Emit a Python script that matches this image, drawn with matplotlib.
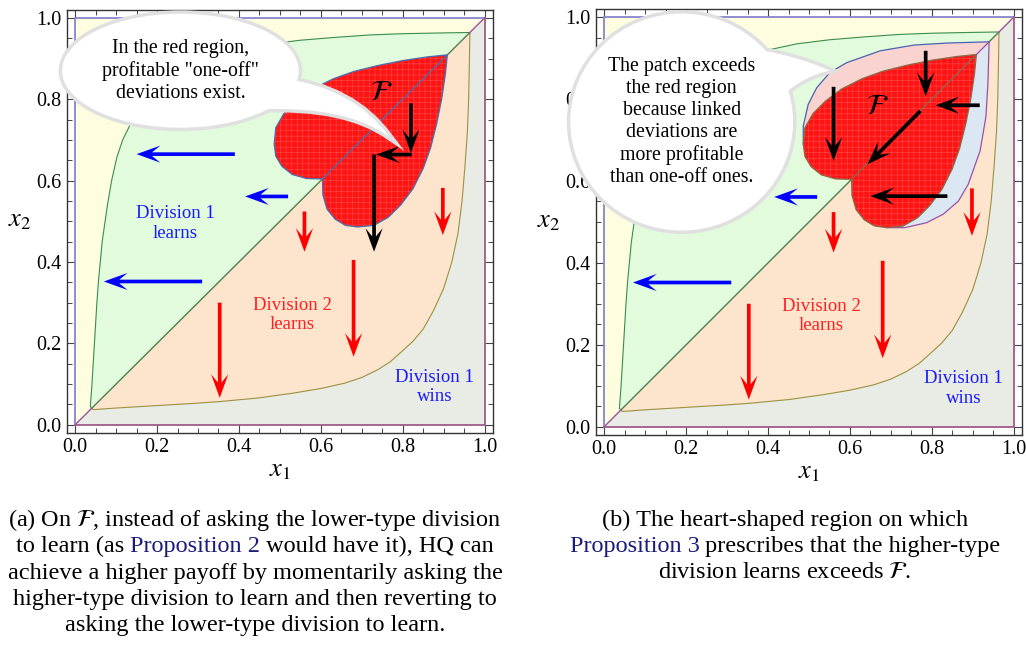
import numpy as np
import matplotlib
matplotlib.use("Agg")
import matplotlib.pyplot as plt
from matplotlib.patches import Polygon, Ellipse, PathPatch
from matplotlib.path import Path
from matplotlib.ticker import MultipleLocator, FormatStrFormatter

plt.rcParams["font.family"] = ["Liberation Serif", "DejaVu Serif"]
plt.rcParams["mathtext.fontset"] = "stix"
plt.rcParams["hatch.linewidth"] = 0.3

# lower boundary curve (Division 2 learns / Division 1 wins); the upper one is its mirror image
LOWER_X = [0.04, 0.045, 0.1, 0.2, 0.3, 0.355, 0.45, 0.535, 0.6, 0.658, 0.7, 0.739, 0.77,
           0.8, 0.825, 0.85, 0.875, 0.9, 0.92, 0.935, 0.945, 0.952, 0.958, 0.961, 0.963, 0.964]
LOWER_Y = [0.04, 0.037, 0.041, 0.047, 0.053, 0.057, 0.066, 0.078, 0.089, 0.102, 0.116, 0.135, 0.155,
           0.182, 0.205, 0.235, 0.28, 0.335, 0.40, 0.47, 0.55, 0.635, 0.72, 0.80, 0.90, 0.962]

# upper lobe of the heart F, from the notch round to the tip
HEART_X = [0.604, 0.565, 0.53, 0.505, 0.49, 0.486, 0.49, 0.51, 0.54, 0.58, 0.63, 0.68, 0.74, 0.80, 0.86, 0.909]
HEART_Y = [0.604, 0.605, 0.615, 0.635, 0.66, 0.69, 0.73, 0.765, 0.795, 0.825, 0.85, 0.868, 0.883, 0.895, 0.904, 0.909]

# outer edge of the larger patch (panel b), upper half
PATCH_X = [0.486, 0.486, 0.498, 0.519, 0.551, 0.592, 0.674, 0.756, 0.837, 0.94]
PATCH_Y = [0.69, 0.734, 0.787, 0.828, 0.865, 0.889, 0.918, 0.932, 0.937, 0.94]

# arrows: (x start, y start, x end, y end)
BLUE_ARROWS = [(0.39, 0.665, 0.15, 0.665), (0.52, 0.561, 0.415, 0.561), (0.31, 0.352, 0.07, 0.352)]
RED_ARROWS = [(0.56, 0.524, 0.56, 0.425), (0.353, 0.30, 0.353, 0.066),
              (0.68, 0.405, 0.68, 0.167), (0.898, 0.582, 0.898, 0.466)]
BLACK_ARROWS_A = [(0.82, 0.79, 0.82, 0.668), (0.822, 0.664, 0.735, 0.664), (0.73, 0.664, 0.73, 0.425)]
BLACK_ARROWS_B = [(0.56, 0.83, 0.56, 0.649), (0.785, 0.918, 0.785, 0.807), (0.917, 0.785, 0.809, 0.785),
                  (0.772, 0.771, 0.643, 0.641), (0.838, 0.563, 0.65, 0.563)]

BUBBLE_A = "In the red region,\nprofitable \"one-off\"\ndeviations exist."
BUBBLE_B = "The patch exceeds\nthe red region\nbecause linked\ndeviations are\nmore profitable\nthan one-off ones."

CAPTION_A = [
    [("(a) On $\\mathcal{F}$, instead of asking the lower-type division", "k")],
    [("to learn (as ", "k"), ("Proposition 2", "#1b1b7a"), (" would have it), HQ can", "k")],
    [("achieve a higher payoff by momentarily asking the", "k")],
    [("higher-type division to learn and then reverting to", "k")],
    [("asking the lower-type division to learn.", "k")],
]
CAPTION_B = [
    [("(b) The heart-shaped region on which", "k")],
    [("Proposition 3", "#1b1b7a"), (" prescribes that the higher-type", "k")],
    [("division learns exceeds $\\mathcal{F}$.", "k")],
]

YELLOW = "#fefde0"
GREEN = "#e1fbdc"
ORANGE = "#fce4cd"
GRAY = "#e9ebe5"
RED = "#ff1414"


def arrow(ax, a, color):
    x0, y0, x1, y1 = a
    ax.arrow(x0, y0, x1 - x0, y1 - y0, width=0.009, head_width=0.042, head_length=0.058,
             length_includes_head=True, overhang=0.35, color=color, lw=0, zorder=8)


def bubble(ax, center, w, h, tail, text):
    ell = dict(xy=center, width=w, height=h)
    codes = [Path.MOVETO, Path.CURVE3, Path.CURVE3, Path.CURVE3, Path.CURVE3, Path.CLOSEPOLY]
    path = Path(tail + [tail[0]], codes)
    for ec, fc, lw, z in [("#e0e0e0", "white", 5, 20), ("none", "white", 0, 21)]:
        ax.add_patch(Ellipse(**ell, fc=fc, ec=ec, lw=lw, zorder=z, clip_on=False))
        ax.add_patch(PathPatch(path, fc=fc, ec=ec, lw=lw, zorder=z, clip_on=False))
    ax.text(center[0], center[1], text, ha="center", va="center", fontsize=14.3,
            linespacing=1.2, zorder=22, clip_on=False)


def draw_panel(ax, right):
    lx, ly = np.array(LOWER_X), np.array(LOWER_Y)
    ux, uy = ly, lx

    ax.add_patch(Polygon([(0, 0), (1, 0), (1, 1), (0, 1)], fc=YELLOW, ec="none", zorder=1))
    ax.add_patch(Polygon([(0, 0), (1, 0), (1, 1)], fc=GRAY, ec="none", zorder=1))
    ax.fill(ux, uy, fc=GREEN, ec="none", zorder=1.2)
    ax.fill(lx, ly, fc=ORANGE, ec="none", zorder=1.2)
    ax.plot(ux, uy, color="#3d8c4c", lw=0.8, zorder=2)
    ax.plot(lx, ly, color="#9c9140", lw=0.8, zorder=2)
    ax.plot([0.04, 0.963], [0.04, 0.963], color="#4f7f50", lw=1, zorder=2)
    ax.plot([0, 0.04], [0, 0.04], color="#a0509a", lw=1, zorder=2)
    ax.plot([0.963, 1], [0.963, 1], color="#a0509a", lw=1, zorder=2)
    ax.plot([0, 0, 1], [0, 1, 1], color="#8585cf", lw=1.3, zorder=2)
    ax.plot([0, 1, 1], [0, 0, 1], color="#a05a8a", lw=1.3, zorder=2)

    hx, hy = np.array(HEART_X), np.array(HEART_Y)
    heart_x = np.concatenate([hx, hy[::-1][1:]])
    heart_y = np.concatenate([hy, hx[::-1][1:]])

    if right:
        px, py = np.array(PATCH_X), np.array(PATCH_Y)
        up_x = np.concatenate([hx[:6], px])
        up_y = np.concatenate([hy[:6], py])
        ax.fill(up_x, up_y, fc="#f9d3d0", ec="none", zorder=3)
        ax.fill(up_y, up_x, fc="#dbe8f4", ec="none", zorder=3)
        ax.plot(px, py, color="#4a62b0", lw=0.9, zorder=3.5)
        ax.plot(py, px, color="#9a50a8", lw=0.9, zorder=3.5)
        edge = "#8a6a4a"
    else:
        edge = "#4a6db0"

    ax.fill(heart_x, heart_y, fc=RED, ec="#ff5a5a", hatch="+++", lw=0, zorder=4)
    ax.plot(heart_x, heart_y, color=edge, lw=0.9, zorder=4.5)
    ax.plot([hx[0], hx[-1]], [hy[0], hy[-1]], color=edge, lw=0.9, zorder=4.5)
    if right:
        ax.plot([hx[-1], 0.94], [hy[-1], 0.94], color="#9a50a8", lw=0.9, zorder=4.5)

    for a in BLUE_ARROWS:
        arrow(ax, a, "#0000ff")
    for a in RED_ARROWS:
        arrow(ax, a, "#ff0000")
    for a in (BLACK_ARROWS_B if right else BLACK_ARROWS_A):
        arrow(ax, a, "black")

    if not right:
        ax.text(0.245, 0.494, "Division 1\nlearns", color="#1a1aff", fontsize=13.5, ha="center",
                va="center", linespacing=1.2, zorder=6)
    ax.text(0.53, 0.27, "Division 2\nlearns", color="#ff2020", fontsize=13.5, ha="center",
            va="center", linespacing=1.2, zorder=6)
    ax.text(0.878, 0.093, "Division 1\nwins", color="#1a1aff", fontsize=13.5, ha="center",
            va="center", linespacing=1.2, zorder=6)
    fx, fy = (0.667, 0.78) if right else (0.748, 0.815)
    ax.text(fx, fy, "$\\mathcal{F}$", fontsize=21, ha="center", va="center", zorder=9)

    ax.set_xlim(-0.02, 1.02)
    ax.set_ylim(-0.02, 1.02)
    for axis in (ax.xaxis, ax.yaxis):
        axis.set_major_locator(MultipleLocator(0.2))
        axis.set_minor_locator(MultipleLocator(0.05))
        axis.set_major_formatter(FormatStrFormatter("%.1f"))
    ax.tick_params(which="both", direction="in", top=True, right=True, color="#444444",
                   labelsize=14.5, pad=4)
    ax.tick_params(which="major", length=6, width=0.8)
    ax.tick_params(which="minor", length=3.5, width=0.7)
    for s in ax.spines.values():
        s.set_color("#333333")
        s.set_linewidth(1)
    ax.set_xlabel("$x_1$", fontsize=19, labelpad=2)
    ax.set_ylabel("$x_2$", fontsize=19, rotation=0, labelpad=12, va="center")

    if right:
        bubble(ax, (0.189, 0.744), 0.544, 0.53,
               [(0.38, 0.92), (0.47, 0.905), (0.551, 0.87), (0.47, 0.85), (0.43, 0.80)], BUBBLE_B)
    else:
        bubble(ax, (0.257, 0.87), 0.578, 0.28,
               [(0.50, 0.852), (0.68, 0.83), (0.767, 0.708), (0.66, 0.785), (0.45, 0.775)], BUBBLE_A)


def caption(fig, lines, xc, y0, dy):
    W = fig.get_figwidth() * fig.dpi
    H = fig.get_figheight() * fig.dpi
    r = fig.canvas.get_renderer()
    for i, parts in enumerate(lines):
        y = 1 - (y0 + i * dy) / H
        texts = [fig.text(0, y, s, color=c, fontsize=17.5, va="center") for s, c in parts]
        widths = [t.get_window_extent(r).width for t in texts]
        x = xc - sum(widths) / 2
        for t, w in zip(texts, widths):
            t.set_x(x / W)
            x += w


fig = plt.figure(figsize=(10.26, 6.47), dpi=100)
ax1 = fig.add_axes([0.0653, 0.331, 0.415, 0.654])
ax2 = fig.add_axes([0.581, 0.328, 0.415, 0.658])
draw_panel(ax1, False)
draw_panel(ax2, True)

caption(fig, CAPTION_A, 255, 520, 26.5)
caption(fig, CAPTION_B, 785, 520, 26.5)

fig.savefig("out.png", dpi=100)
